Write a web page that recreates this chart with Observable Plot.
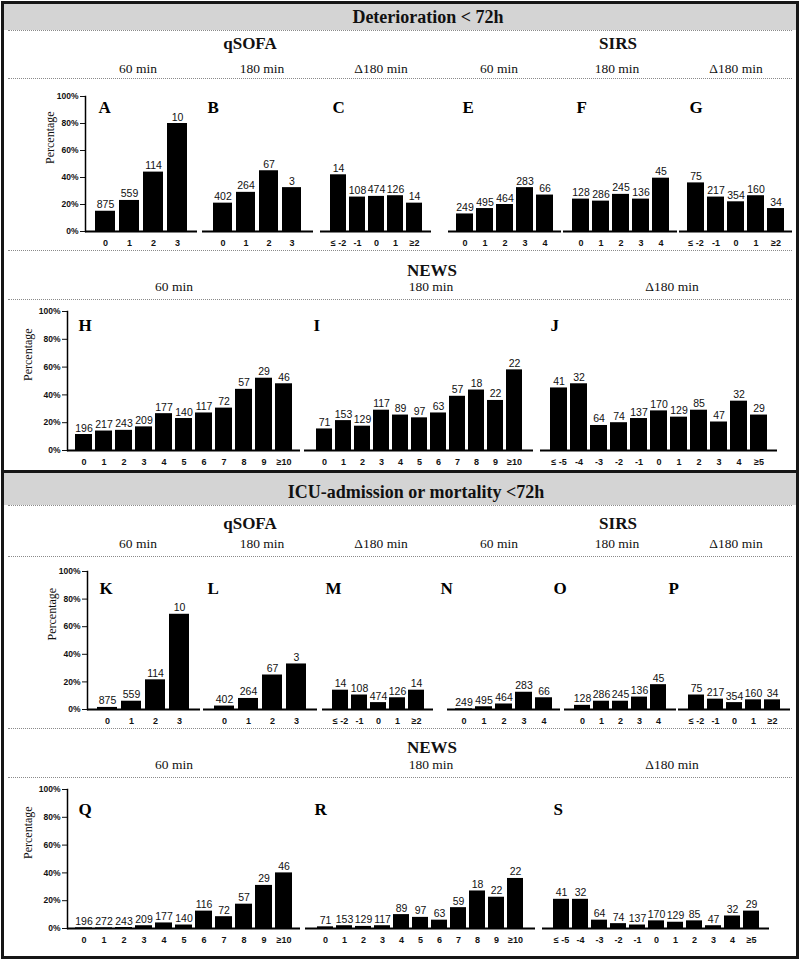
<!DOCTYPE html>
<html><head><meta charset="utf-8">
<script src="https://cdn.jsdelivr.net/npm/d3@7"></script>
<script src="https://cdn.jsdelivr.net/npm/@observablehq/plot@0.6"></script>
<style>
body{margin:0;background:#fff;}
#fig{position:relative;width:800px;height:961px;overflow:hidden;background:#fff;}
.box{position:absolute;box-sizing:border-box;border:3px solid #161616;}
.band{position:absolute;background:#d4d4d4;}
.dot{position:absolute;height:0;border-top:1px dotted #8a8a8a;}
.t{position:absolute;transform:translate(-50%,-50%);white-space:nowrap;font-family:"Liberation Serif","Times New Roman",serif;color:#111;line-height:1;}
</style></head><body><div id="fig"></div><script>
// ---------- data ----------
const qsofaCats = ["0","1","2","3"];
const sirsCats = ["0","1","2","3","4"];
const deltaCats = ["≤ -2","-1","0","1","≥2"];
const newsCats = ["0","1","2","3","4","5","6","7","8","9","≥10"];
const deltaNewsCats = ["≤ -5","-4","-3","-2","-1","0","1","2","3","4","≥5"];

const nQsofa60 = [875,559,114,10];
const nQsofa180 = [402,264,67,3];
const nQsofaDelta = [14,108,474,126,14];
const nSirs60 = [249,495,464,283,66];
const nSirs180 = [128,286,245,136,45];
const nSirsDelta = [75,217,354,160,34];
const nNews60Det = [196,217,243,209,177,140,117,72,57,29,46];
const nNews180Det = [71,153,129,117,89,97,63,57,18,22,22];
const nNewsDelta = [41,32,64,74,137,170,129,85,47,32,29];
const nNews60Icu = [196,272,243,209,177,140,116,72,57,29,46];
const nNews180Icu = [71,153,129,117,89,97,63,59,18,22,22];

// percentages (deterioration < 72h)
const pctA = [15,23,44,80];
const pctB = [21,29,45,32.5];
const pctC = [42,25.5,26,26.5,21];
const pctE = [13,17,20,32.5,27];
const pctF = [24,22.5,27.5,24,39.5];
const pctG = [36,25.5,22,26.5,17];
const pctH = [11.5,14,14.5,17,26.5,23,27,30.5,44,52,48];
const pctI = [15.5,21.5,17.5,29,25.5,23.5,27,39,43.5,36,58];
const pctJ = [45,48,18,20,23,28.5,24,29,20.5,35.5,25.5];
// percentages (ICU-admission or mortality < 72h)
const pctK = [1.5,6,21.5,69];
const pctL = [2.5,8,25,33];
const pctM = [14,10.5,5,8.5,14];
const pctN = [0.5,2,4,12.5,8.5];
const pctO = [3,6,6,9,18];
const pctP = [10.5,7.5,5,7,7];
const pctQ = [0.5,0.5,0.7,2,4,2.5,12.5,8.5,17.5,31,40];
const pctR = [1.2,2,1.5,2,10,8,6,15,27,22.5,36];
const pctS = [21,21,6,3.5,2.5,5.5,4.5,5.5,2,9,12.5];

const yTicks = [0,20,40,60,80,100];

// ---------- layout ----------
const fig = document.getElementById("fig");
function div(cls, css, txt){
  const d = document.createElement("div"); d.className = cls;
  Object.assign(d.style, css); if (txt) d.textContent = txt; fig.appendChild(d); return d;
}
function label(txt, x, y, size, bold){
  div("t", {left:x+"px", top:y+"px", fontSize:size+"px", fontWeight: bold ? "bold" : "normal"}, txt);
}
function dots(y){ div("dot", {left:"8px", width:"784px", top:y+"px"}); }

// boxes
div("band", {left:"3px", top:"3px", width:"794px", height:"27px"});
div("band", {left:"3px", top:"473px", width:"794px", height:"32px"});
div("box", {left:"1px", top:"1px", width:"798px", height:"472px"});
div("box", {left:"1px", top:"470px", width:"798px", height:"489px"});

const sectionText = [
  {title:"Deterioration < 72h", tx:428, ty:17, hy:43, sy:69, d1:78, ny:270, ns:287, d2:250, d3:299, d0:30},
  {title:"ICU-admission or mortality <72h", tx:416, ty:492, hy:523, sy:544, d1:556, ny:747, ns:765, d2:728, d3:777, d0:505}
];
sectionText.forEach(s => {
  label(s.title, s.tx, s.ty, 18, true);
  label("qSOFA", 250, s.hy, 17, true);
  label("SIRS", 618, s.hy, 17, true);
  [["60 min",138],["180 min",262],["Δ180 min",381],["60 min",499],["180 min",617],["Δ180 min",736]]
    .forEach(([t,x]) => label(t, x, s.sy, 13.5, false));
  label("NEWS", 432, s.ny, 17, true);
  [["60 min",174],["180 min",431],["Δ180 min",672]].forEach(([t,x]) => label(t, x, s.ns, 13.5, false));
  dots(s.d0); dots(s.d1); dots(s.d2); dots(s.d3);
});

const rows = [
  {y100:96,  y0:231, pctX:50, ldy:11},
  {y100:311, y0:450, pctX:28, ldy:14},
  {y100:571, y0:709, pctX:52, ldy:17},
  {y100:789, y0:928, pctX:28, ldy:20}
];

const panels = [
  {row:0, letter:"A", cats:qsofaCats, pct:pctA, n:nQsofa60,   x0:85,  x1:197, ldx:13, axis:true},
  {row:0, letter:"B", cats:qsofaCats, pct:pctB, n:nQsofa180,  x0:202, x1:313, ldx:5},
  {row:0, letter:"C", cats:deltaCats, pct:pctC, n:nQsofaDelta,x0:320, x1:431, ldx:12},
  {row:0, letter:"E", cats:sirsCats,  pct:pctE, n:nSirs60,    x0:448, x1:561, ldx:14},
  {row:0, letter:"F", cats:sirsCats,  pct:pctF, n:nSirs180,   x0:563, x1:677, ldx:13},
  {row:0, letter:"G", cats:deltaCats, pct:pctG, n:nSirsDelta, x0:679, x1:792, ldx:10},
  {row:1, letter:"H", cats:newsCats,  pct:pctH, n:nNews60Det, x0:67,  x1:300, ldx:11, axis:true},
  {row:1, letter:"I", cats:newsCats,  pct:pctI, n:nNews180Det,x0:304, x1:533, ldx:9},
  {row:1, letter:"J", cats:deltaNewsCats, pct:pctJ, n:nNewsDelta, x0:540, x1:777, ldx:10},
  {row:2, letter:"K", cats:qsofaCats, pct:pctK, n:nQsofa60,   x0:87,  x1:200, ldx:12, axis:true},
  {row:2, letter:"L", cats:qsofaCats, pct:pctL, n:nQsofa180,  x0:203, x1:317, ldx:4},
  {row:2, letter:"M", cats:deltaCats, pct:pctM, n:nQsofaDelta,x0:322, x1:433, ldx:3},
  {row:2, letter:"N", cats:sirsCats,  pct:pctN, n:nSirs60,    x0:447, x1:560, ldx:-7},
  {row:2, letter:"O", cats:sirsCats,  pct:pctO, n:nSirs180,   x0:564, x1:676, ldx:-11},
  {row:2, letter:"P", cats:deltaCats, pct:pctP, n:nSirsDelta, x0:678, x1:790, ldx:-10},
  {row:3, letter:"Q", cats:newsCats,  pct:pctQ, n:nNews60Icu, x0:67,  x1:300, ldx:11, axis:true},
  {row:3, letter:"R", cats:newsCats,  pct:pctR, n:nNews180Icu,x0:305, x1:535, ldx:9},
  {row:3, letter:"S", cats:deltaNewsCats, pct:pctS, n:nNewsDelta, x0:542, x1:769, ldx:11}
];

const sans = "'Liberation Sans', Arial, sans-serif";
const serif = "'Liberation Serif', 'Times New Roman', serif";

panels.forEach(spec => {
  const row = rows[spec.row];
  const svgLeft = spec.axis ? 0 : spec.x0 - 6;
  const mL = spec.x0 - svgLeft, mR = 6, mT = 30, mB = 24;
  const w = spec.x1 - svgLeft + mR;
  const h = mT + (row.y0 - row.y100) + mB;
  const data = spec.cats.map((c, i) => ({cat: c, pct: spec.pct[i], n: spec.n[i]}));
  const marks = [
    Plot.barY(data, {x: "cat", y: "pct", fill: "#000"}),
    Plot.ruleY([0], {stroke: "#000", strokeWidth: 2}),
    Plot.text(data, {x: "cat", y: "pct", text: d => String(d.n), lineAnchor: "bottom", dy: -3, fontSize: 10.5, fill: "#111"}),
    Plot.text([spec.letter], {frameAnchor: "top-left", text: d => d, dx: spec.ldx, dy: row.ldy,
      textAnchor: "start", lineAnchor: "middle", fontSize: 17, fontWeight: "bold", fontFamily: serif, fill: "#000"}),
    Plot.axisX({tickSize: 0, tickPadding: 8, fontSize: 9, fontWeight: "bold", label: null})
  ];
  if (spec.axis) {
    marks.push(
      Plot.axisY({ticks: yTicks, tickFormat: d => d + "%", tickSize: 5, tickPadding: 2, fontSize: 8.5, fontWeight: "bold", label: null}),
      Plot.frame({anchor: "left", stroke: "#000", strokeWidth: 1.5}),
      Plot.text(["Percentage"], {frameAnchor: "left", text: d => d, rotate: -90, dx: row.pctX - spec.x0,
        fontSize: 12, fontFamily: serif, fill: "#111"})
    );
  }
  const p = Plot.plot({
    width: w, height: h, marginLeft: mL, marginRight: mR, marginTop: mT, marginBottom: mB,
    x: {domain: spec.cats, paddingInner: 0.16, paddingOuter: 0.4},
    y: spec.axis ? {domain: [0, 100]} : {domain: [0, 100], axis: null},
    style: {fontFamily: sans, background: "transparent", overflow: "visible", color: "#111"},
    marks
  });
  p.style.position = "absolute";
  p.style.left = svgLeft + "px";
  p.style.top = (row.y100 - mT) + "px";
  fig.appendChild(p);
});
</script></body></html>
